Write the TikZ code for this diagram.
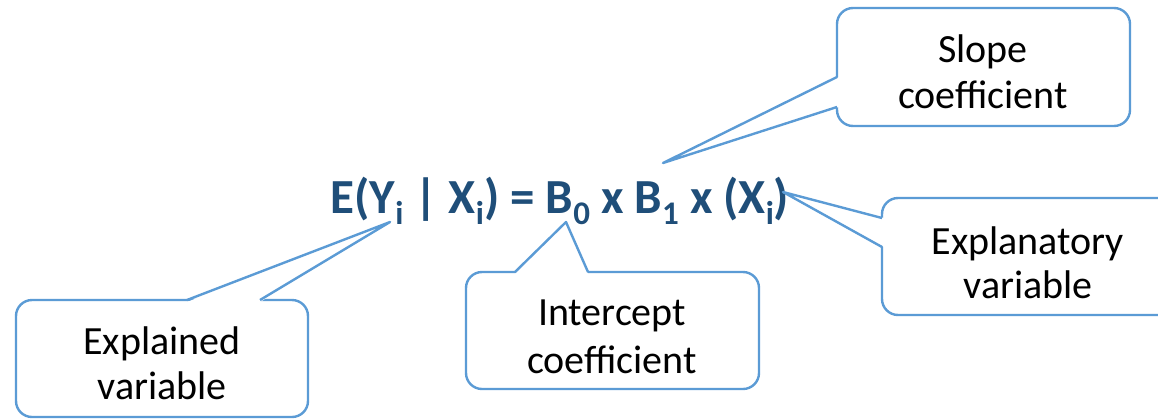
\documentclass[tikz,border=0pt]{standalone}
\usepackage{fontspec}
\setmainfont{Carlito}
\definecolor{eqblue}{RGB}{31,78,121}
\definecolor{callblue}{RGB}{91,155,213}
\newcommand\sbx[1]{\raisebox{-11pt}{\fontsize{33}{33}\selectfont #1}}
\tikzset{
  cbox/.style={draw=callblue, line width=2.4pt, rounded corners=16pt, fill=white},
  cwedge/.style={draw=callblue, line width=2.4pt, line join=round},
  ccover/.style={fill=white},
  ctext/.style={anchor=base, inner sep=0pt, font=\fontsize{40}{46}\selectfont, text=black},
  eqtext/.style={anchor=base, inner sep=0pt, font=\bfseries\fontsize{49}{55}\selectfont, text=eqblue}
}
\begin{document}
\begin{tikzpicture}[x=1pt,y=-1pt]
\useasboundingbox (0,0) rectangle (1158,418);
\clip (0,0) rectangle (1158,418);

% equation
\node[eqtext] (eq) at (560,213) {E(Y\sbx{i} | X\sbx{i}) = B\sbx{0} x B\sbx{1} x (X\sbx{i})};

% tips
\coordinate (tipA) at (390,222);
\coordinate (tipB) at (566,222);
\coordinate (tipC) at (663,163);
\coordinate (tipD) at (783,192);

% Explained variable callout
\draw[cbox] (16,300) rectangle (308,417);
\fill[ccover] (187,302) -- (tipA) -- (260,302) -- cycle;
\coordinate (a1) at (187,300);
\coordinate (a2) at (260,300);
\draw[cwedge] (a1) -- (tipA) -- (a2);
\node[ctext] (ta1) at (162,354) {Explained};
\node[ctext] (ta2) at (162,399) {variable};

% Intercept coefficient callout
\draw[cbox] (466,272) rectangle (759,389);
\fill[ccover] (515,274) -- (tipB) -- (588,274) -- cycle;
\coordinate (b1) at (515,272);
\coordinate (b2) at (588,272);
\draw[cwedge] (b1) -- (tipB) -- (b2);
\node[ctext] (tb1) at (612,325) {Intercept};
\node[ctext] (tb2) at (612,373) {coefficient};

% Slope coefficient callout
\draw[cbox] (837,8) rectangle (1130,126);
\fill[ccover] (839,77) -- (tipC) -- (839,107) -- cycle;
\coordinate (c1) at (837,77);
\coordinate (c2) at (837,107);
\draw[cwedge] (c1) -- (tipC) -- (c2);
\node[ctext] (tc1) at (983,62) {Slope};
\node[ctext] (tc2) at (983,108) {coefficient};

% Explanatory variable callout
\draw[cbox] (882,198) rectangle (1180,315);
\fill[ccover] (884,218) -- (tipD) -- (884,247) -- cycle;
\coordinate (d1) at (882,218);
\coordinate (d2) at (882,247);
\draw[cwedge] (d1) -- (tipD) -- (d2);
\node[ctext] (td1) at (1028,254) {Explanatory};
\node[ctext] (td2) at (1028,298) {variable};
\end{tikzpicture}
\end{document}
